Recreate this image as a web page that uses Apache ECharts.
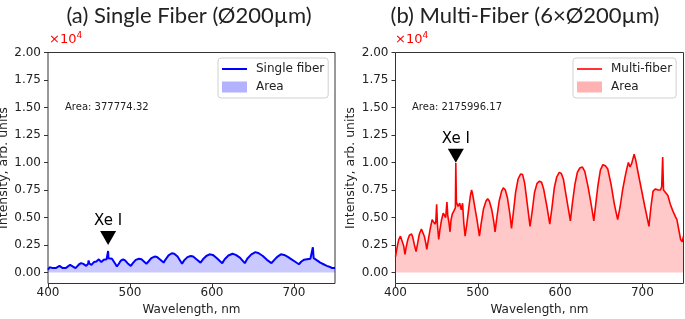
<!DOCTYPE html>
<html>
<head>
<meta charset="utf-8">
<script src="https://cdn.jsdelivr.net/npm/echarts@6/dist/echarts.min.js"></script>
<style>
  html, body { margin: 0; padding: 0; background: #fff; }
  #chart { width: 685px; height: 319px; }
</style>
</head>
<body>
<div id="chart"></div>
<script>
// wavelength (nm) and intensity (counts)
const singleWl = [400, 402, 404, 406, 408, 410, 412, 414, 416, 418, 420, 422, 424, 427, 429, 431, 433.6, 435.5, 438, 440.5, 443, 446.6, 449, 449.5, 450.5, 453, 456, 459, 461, 462, 463.5, 465, 468, 471.5, 473, 473.3, 473.8, 476, 478, 480, 482, 484, 486, 488.5, 491.5, 494, 497, 501, 503.5, 507, 511, 514, 517, 520, 522.5, 526, 530, 533, 537, 541, 543.5, 547, 551, 554, 558, 563.5, 566, 570, 574, 577, 581, 586, 589, 593, 597, 601, 606, 612.5, 615.5, 620, 625, 629, 634, 640, 643, 648, 653, 657, 662, 667, 672.5, 676, 680, 684, 688, 692, 697, 701, 706, 709, 712, 716, 720, 722, 723, 724, 726, 729, 732, 736, 740, 744, 746.5, 750];
const singleVal = [250, 480, 500, 400, 300, 420, 550, 600, 520, 400, 300, 420, 580, 700, 640, 520, 400, 550, 750, 850, 780, 600, 800, 1100, 800, 700, 950, 1000, 1050, 1200, 1050, 950, 1150, 1200, 1300, 1950, 1300, 1200, 1250, 1100, 800, 550, 750, 1050, 1200, 1100, 850, 600, 850, 1150, 1250, 1200, 1000, 800, 1000, 1300, 1450, 1400, 1150, 900, 1200, 1550, 1750, 1700, 1450, 800, 1100, 1400, 1500, 1450, 1200, 900, 1200, 1500, 1650, 1600, 1300, 850, 1200, 1550, 1700, 1600, 1350, 850, 1250, 1650, 1850, 1750, 1500, 1150, 850, 1150, 1450, 1650, 1600, 1450, 1200, 1000, 750, 1000, 1150, 1200, 1250, 1300, 2300, 1300, 1200, 1050, 900, 750, 600, 500, 400, 400];

const multiWl = [400, 402, 404, 406, 408, 410, 411.5, 413, 415, 417, 419.5, 421, 423, 425, 427, 429, 431.5, 433, 435, 437, 438, 440, 442, 444.5, 446.5, 448, 449, 450, 451, 452.5, 454, 456, 458, 459.5, 461, 462.5, 463.5, 465, 466.3, 467.5, 469, 471, 472.8, 473.3, 474, 476, 478, 480, 481.5, 483, 484.6, 486.5, 489, 491, 492.5, 494, 496, 499, 502, 504, 507, 510, 512, 514, 517, 519.5, 521, 523, 526, 529, 531, 533.5, 536, 539, 541, 543, 546, 549, 552, 554.5, 557, 560, 563.5, 566, 569, 572, 575, 577.5, 580, 584, 587.5, 590, 593, 596, 599, 601.5, 604, 608, 612.5, 615, 618, 621, 624, 627, 630, 634, 638, 641, 643.5, 646, 649, 652, 655, 658, 662, 666, 670, 673, 676, 679, 681, 683, 685, 687, 690, 692, 695, 699, 703, 708, 710.5, 713, 716, 719, 722, 723.5, 724.7, 725.7, 728, 731, 734, 737, 740, 742, 744, 746.5, 748.5, 750];
const multiVal = [1450, 2300, 3000, 3300, 3200, 2400, 1650, 2300, 3000, 3400, 3500, 3200, 2500, 1900, 2700, 3500, 3950, 3800, 3300, 2600, 2100, 3000, 3900, 4800, 4700, 4400, 4600, 6200, 4300, 3000, 3900, 4800, 5400, 5300, 5000, 6400, 5200, 4500, 3700, 4800, 5300, 5600, 5900, 9950, 6400, 6000, 6300, 5700, 6300, 4500, 3300, 4300, 5800, 7000, 7500, 7000, 6100, 4800, 3300, 4400, 5800, 6500, 6700, 6500, 5700, 4600, 3700, 4900, 6500, 7400, 7700, 7500, 6800, 5300, 4000, 5300, 7300, 8500, 8950, 8900, 8100, 6300, 4200, 5500, 7300, 8100, 8300, 8200, 7600, 6000, 4400, 5800, 7700, 8700, 9100, 9000, 8500, 6700, 4700, 6300, 8000, 9100, 9500, 9600, 9200, 7800, 6100, 4700, 6300, 7900, 9300, 9800, 9700, 9400, 8000, 6200, 4800, 6000, 7500, 8700, 9400, 10000, 9600, 9900, 10750, 10200, 9000, 7500, 6000, 4200, 6000, 7400, 7600, 7500, 7500, 7800, 10500, 7500, 7400, 7000, 6200, 5600, 5100, 4800, 4000, 3000, 2800, 3300];

const xTicks = [400, 500, 600, 700];
const yTicks = [0, 2500, 5000, 7500, 10000, 12500, 15000, 17500, 20000];
const xeLine = 473.3;
const singleArea = "Area: 377774.32";
const multiArea = "Area: 2175996.17";

const pairs = (xs, ys) => xs.map((x, i) => [x, ys[i]]);
const FONT = "DejaVu Sans";

const xAxisOf = (gridIndex) => ({
  type: "value",
  gridIndex: gridIndex,
  min: 400,
  max: 750,
  position: "bottom",
  axisLine: { show: false, onZero: false },
  axisTick: { show: true, length: 4, customValues: xTicks, lineStyle: { color: "#333" } },
  axisLabel: { customValues: xTicks, margin: 3, color: "#222", fontFamily: FONT, fontSize: 12 },
  splitLine: { show: false },
  name: "Wavelength, nm",
  nameLocation: "middle",
  nameGap: 20,
  nameTextStyle: { color: "#222", fontFamily: FONT, fontSize: 12 },
});

const yAxisOf = (gridIndex) => ({
  type: "value",
  gridIndex: gridIndex,
  min: -1000,
  max: 20000,
  axisLine: { show: false },
  axisTick: { show: true, length: 4, customValues: yTicks, lineStyle: { color: "#333" } },
  axisLabel: {
    customValues: yTicks,
    margin: 7,
    color: "#222",
    fontFamily: FONT,
    fontSize: 12,
    formatter: (v) => (v / 1e4).toFixed(2),
  },
  splitLine: { show: false },
  name: "Intensity, arb. units",
  nameLocation: "middle",
  nameGap: 38,
  nameTextStyle: { color: "#222", fontFamily: FONT, fontSize: 12.5 },
});

// downward black triangle with its tip on the Xe I line
const xeMark = (tip) => ({
  symbol: "path://M0,0L16,0L8,14Z",
  symbolSize: [16, 14],
  symbolOffset: [0, -7],
  itemStyle: { color: "#000" },
  label: {
    show: true,
    position: "top",
    distance: 2,
    formatter: "Xe I",
    color: "#000",
    fontFamily: FONT,
    fontSize: 15,
  },
  data: [{ coord: [xeLine, tip] }],
});

const legendOf = (left, names, width) => ({
  orient: "vertical",
  left: left,
  top: 58,
  padding: [4, 4, 4, 4],
  itemGap: 4,
  itemWidth: 25,
  itemHeight: 11,
  borderColor: "#d0d0d0",
  borderWidth: 1,
  borderRadius: 3,
  backgroundColor: "#fff",
  data: [
    { name: names[0], icon: "path://M0,0L25,0L25," + width + "L0," + width + "Z" },
    { name: names[1], icon: "rect" },
  ],
  formatter: (n) => (n.indexOf("Area") === 0 ? "Area" : n),
  textStyle: { color: "#222", fontFamily: FONT, fontSize: 12, lineHeight: 14, padding: [0, 0, 0, 4] },
});

const titleText = (left, text) => ({
  text: text,
  left: left,
  top: 0,
  textAlign: "center",
  textStyle: { color: "#222", fontFamily: "Lato", fontSize: 22, fontWeight: "normal" },
});

const expText = (left) => ({
  text: "×10{sup|4}",
  left: left,
  top: 26,
  textStyle: {
    color: "#ff0000",
    fontFamily: FONT,
    fontSize: 13,
    fontWeight: "normal",
    rich: { sup: { fontSize: 9, color: "#ff0000", fontFamily: FONT, padding: [0, 0, 8, 0] } },
  },
});

const areaText = (left, text) => ({
  text: text,
  left: left,
  top: 97,
  textStyle: { color: "#222", fontFamily: FONT, fontSize: 10, fontWeight: "normal" },
});

const gridOf = (left, width) => ({
  left: left,
  top: 52.5,
  width: width,
  height: 231,
  outerBoundsMode: "none",
  show: true,
  borderColor: "#333",
  borderWidth: 1,
  backgroundColor: "transparent",
});

const chart = echarts.init(document.getElementById("chart"));
const option = {
  animation: false,
  title: [
    titleText(184, "(a) Single Fiber (Ø200µm)"),
    titleText(520, "(b) Multi-Fiber (6×Ø200µm)"),
    expText(44),
    expText(390),
    areaText(60, singleArea),
    areaText(407, multiArea),
  ],
  legend: [legendOf(218, ["Single fiber", "Area"], 2), legendOf(573, ["Multi-fiber", "Area (b)"], 1.6)],
  grid: [gridOf(48, 287), gridOf(395.5, 288)],
  xAxis: [xAxisOf(0), xAxisOf(1)],
  yAxis: [yAxisOf(0), yAxisOf(1)],
  series: [
    {
      name: "Area",
      type: "line",
      xAxisIndex: 0,
      yAxisIndex: 0,
      data: pairs(singleWl, singleVal),
      symbol: "none",
      lineStyle: { width: 0 },
      itemStyle: { color: "rgba(0,0,255,0.3)" },
      areaStyle: { color: "rgba(0,0,255,0.3)", origin: 0 },
      z: 1,
    },
    {
      name: "Single fiber",
      type: "line",
      xAxisIndex: 0,
      yAxisIndex: 0,
      data: pairs(singleWl, singleVal),
      symbol: "none",
      lineStyle: { width: 2, color: "#0000ff" },
      itemStyle: { color: "#0000ff" },
      markPoint: xeMark(2500),
      z: 2,
    },
    {
      name: "Area (b)",
      type: "line",
      xAxisIndex: 1,
      yAxisIndex: 1,
      data: pairs(multiWl, multiVal),
      symbol: "none",
      lineStyle: { width: 0 },
      itemStyle: { color: "rgba(255,0,0,0.3)" },
      areaStyle: { color: "rgba(255,0,0,0.3)", origin: 0 },
      z: 1,
    },
    {
      name: "Multi-fiber",
      type: "line",
      xAxisIndex: 1,
      yAxisIndex: 1,
      data: pairs(multiWl, multiVal),
      symbol: "none",
      lineStyle: { width: 1.6, color: "#ff0000" },
      itemStyle: { color: "#ff0000" },
      markPoint: xeMark(9970),
      z: 2,
    },
  ],
};
chart.setOption(option);
</script>
</body>
</html>
